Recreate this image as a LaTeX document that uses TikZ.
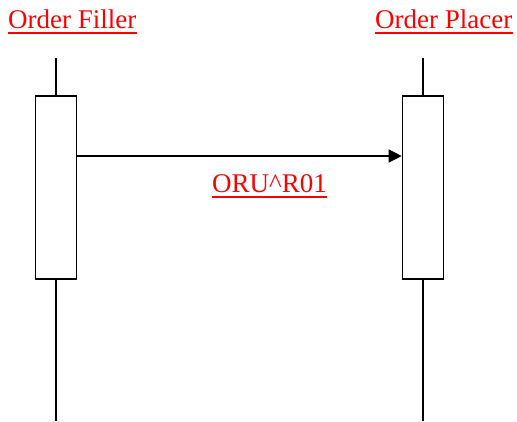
\documentclass[tikz,border=0pt]{standalone}
\usepackage{fontspec}
\setmainfont{Liberation Serif}
\usetikzlibrary{arrows.meta}
\begin{document}
\begin{tikzpicture}[x=1pt,y=-1pt,
  lbl/.style={inner sep=0pt,anchor=base west,text=red,font=\fontsize{27}{30}\selectfont},
  life/.style={line width=1.6pt,black},
  actbox/.style={draw=black,line width=1.6pt,fill=white,minimum width=41pt,minimum height=183pt,inner sep=0pt},
  msg/.style={line width=1.4pt,-{Triangle[length=13pt,width=13pt]}},
  uline/.style={red,line width=2pt}]
\useasboundingbox (0,0) rectangle (517,421);
\node[lbl] (fill) at (8,28) {Order Filler};
\node[lbl] (plac) at (375,28) {Order Placer};
\draw[uline] ([yshift=-4.5pt]fill.base west) -- ([yshift=-4.5pt]fill.base east);
\draw[uline] ([yshift=-4.5pt]plac.base west) -- ([yshift=-4.5pt]plac.base east);
\coordinate (lt) at (56,58);
\coordinate (lb) at (56,421);
\coordinate (rt) at (423,58);
\coordinate (rb) at (423,421);
\draw[life] (lt) -- (lb);
\draw[life] (rt) -- (rb);
\node[actbox] (lbox) at (56,187.5) {};
\node[actbox] (rbox) at (423,187.5) {};
\draw[msg] (lbox.east |- 0,156) -- (rbox.west |- 0,156);
\node[lbl] (m) at (212,192) {ORU\textasciicircum R01};
\draw[uline] ([yshift=-4.5pt]m.base west) -- ([yshift=-4.5pt]m.base east);
\end{tikzpicture}
\end{document}
